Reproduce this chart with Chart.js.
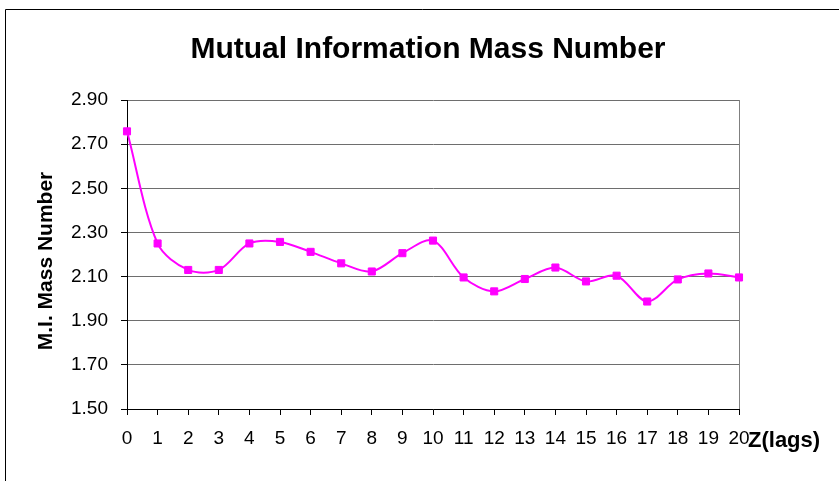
<!DOCTYPE html>
<html>
<head>
<meta charset="utf-8">
<script src="https://cdn.jsdelivr.net/npm/chart.js@4/dist/chart.umd.min.js"></script>
<style>
  html, body { margin: 0; padding: 0; background: #ffffff; }
  #wrap { width: 839px; height: 481px; position: relative; overflow: hidden; }
</style>
</head>
<body>
<div id="wrap"><canvas id="c" width="839" height="481"></canvas></div>
<script>
const lags = ['0','1','2','3','4','5','6','7','8','9','10','11','12','13','14','15','16','17','18','19','20'];
const miMassNumber = [2.758, 2.25, 2.13, 2.13, 2.25, 2.257, 2.212, 2.16, 2.123, 2.206, 2.263,
                      2.096, 2.033, 2.089, 2.141, 2.078, 2.104, 1.987, 2.087, 2.114, 2.096];
const yTicks = [1.50, 1.70, 1.90, 2.10, 2.30, 2.50, 2.70, 2.90];
const chartTitle = 'Mutual Information Mass Number';
const yTitle = 'M.I. Mass Number';
const xTitle = 'Z(lags)';

const FONT = '"Liberation Sans", Arial, sans-serif';

const decor = {
  id: 'decor',
  beforeDraw(chart) {
    const ctx = chart.ctx;
    ctx.save();
    ctx.strokeStyle = '#000';
    ctx.lineWidth = 1;
    ctx.beginPath();
    ctx.moveTo(5.5, 481);
    ctx.lineTo(5.5, 9.5);
    ctx.lineTo(839, 9.5);
    ctx.stroke();
    ctx.restore();
  },
  beforeDatasetsDraw(chart) {
    const ctx = chart.ctx, a = chart.chartArea;
    ctx.save();
    ctx.strokeStyle = '#808080';
    ctx.lineWidth = 1;
    ctx.beginPath();
    ctx.moveTo(Math.round(a.right) + 0.5, a.top);
    ctx.lineTo(Math.round(a.right) + 0.5, a.bottom);
    ctx.stroke();
    ctx.restore();
  },
  afterDraw(chart) {
    const ctx = chart.ctx;
    ctx.save();
    ctx.fillStyle = '#000';
    ctx.font = 'bold 30px ' + FONT;
    ctx.textAlign = 'center';
    ctx.textBaseline = 'alphabetic';
    ctx.fillText(chartTitle, 428, 58);

    ctx.font = 'bold 21px ' + FONT;
    ctx.save();
    ctx.translate(52, 261);
    ctx.rotate(-Math.PI / 2);
    ctx.textAlign = 'center';
    ctx.fillText(yTitle, 0, 0);
    ctx.restore();

    ctx.font = 'bold 22px ' + FONT;
    ctx.textAlign = 'left';
    ctx.fillText(xTitle, 748, 446.5);
    ctx.restore();
  }
};

new Chart(document.getElementById('c'), {
  type: 'line',
  data: {
    labels: lags,
    datasets: [{
      data: miMassNumber,
      borderColor: '#FF00FF',
      backgroundColor: '#FF00FF',
      borderWidth: 2,
      tension: 0.32,
      pointStyle: 'rect',
      pointRadius: 5,
      pointBorderWidth: 1,
      pointBackgroundColor: '#FF00FF',
      pointBorderColor: '#FF00FF',
      fill: false,
      clip: false
    }]
  },
  options: {
    responsive: false,
    animation: false,
    devicePixelRatio: 1,
    layout: { padding: { left: 5, top: 100, right: 100, bottom: 0 } },
    plugins: { legend: { display: false }, title: { display: false }, tooltip: { enabled: false } },
    scales: {
      x: {
        type: 'category',
        offset: false,
        grid: { drawOnChartArea: false, drawTicks: true, tickLength: 6, color: '#000', tickColor: '#000' },
        border: { color: '#000', width: 1 },
        ticks: {
          color: '#000', font: { family: FONT, size: 19 }, padding: 12,
          maxRotation: 0, minRotation: 0, autoSkip: false
        },
        afterFit(scale) { scale.height = 72; }
      },
      y: {
        min: 1.5, max: 2.9,
        grid: { color: '#6e6e6e', tickColor: '#000', tickLength: 6, lineWidth: 1 },
        border: { color: '#000', width: 1 },
        ticks: {
          color: '#000', font: { family: FONT, size: 19 }, padding: 13,
          callback: (v) => Number(v).toFixed(2)
        },
        afterBuildTicks(scale) { scale.ticks = yTicks.map(v => ({ value: v })); },
        afterFit(scale) { scale.width = 122; }
      }
    }
  },
  plugins: [decor]
});
</script>
</body>
</html>
